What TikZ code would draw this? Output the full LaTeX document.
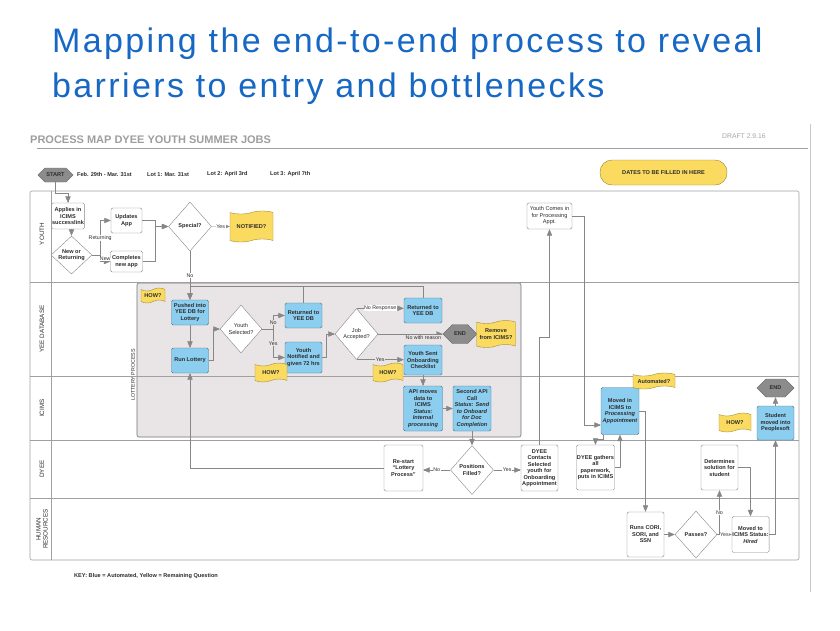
\documentclass[tikz,border=0pt]{standalone}
\usepackage{fontspec}
\setmainfont{Liberation Sans}
\newfontfamily\titlefont[LetterSpace=7]{Liberation Sans}
\usepackage{tikz}
\usetikzlibrary{shapes.geometric,shapes.symbols}
\usetikzlibrary{positioning}
\usepgflibrary{arrows}
\definecolor{titleblue}{RGB}{22,104,196}
\definecolor{lanegray}{RGB}{160,160,160}
\definecolor{linegray}{RGB}{135,135,135}
\definecolor{inkgray}{RGB}{45,45,45}
\definecolor{autoblue}{RGB}{140,206,240}
\definecolor{flagyellow}{RGB}{250,218,95}
\definecolor{endgray}{RGB}{140,140,140}
\definecolor{lotfill}{RGB}{233,229,231}
\newcommand{\bxfont}{\fontsize{5.6}{6.5}\selectfont\bfseries}
\newcommand{\bxfontreg}{\fontsize{5.6}{6.5}\selectfont}
\newcommand{\lblfont}{\fontsize{5.3}{6}\selectfont}

\begin{document}
\begin{tikzpicture}[x=1pt,y=-1pt]
	\tikzset{>=triangle 45}
	\tikzset{
		box/.style={draw=linegray, rounded corners=1.5pt, fill=white, text=inkgray, align=center, inner sep=0.5pt, font=\bxfont, minimum width=37pt, minimum height=25pt},
		autobox/.style={box, fill=autoblue, draw=autoblue!55!black},
		decision/.style={diamond, draw=linegray, fill=white, text=inkgray, align=center, inner sep=0pt, font=\bxfont, minimum width=43pt, minimum height=49pt},
		flag/.style={tape, tape bend height=3pt, draw=flagyellow!65!black, fill=flagyellow, text=inkgray, align=center, inner sep=0.5pt, font=\bxfont},
		term/.style={signal, signal to=east and west, draw=endgray!80!black, fill=endgray, text=inkgray, font=\bxfont, inner sep=0.5pt, minimum height=19pt},
		flowline/.style={draw=linegray, line width=0.45pt},
		flow/.style={flowline, ->},
		lbl/.style={font=\lblfont, text=inkgray, fill=white, inner sep=0.5pt},
		lotlbl/.style={lbl, fill=lotfill},
		lane/.style={draw=lanegray, line width=0.6pt},
		laneLbl/.style={font=\fontsize{6.3}{7}\selectfont, text=inkgray, rotate=90, align=center},
		titleText/.style={anchor=base west, inner sep=0pt, font=\titlefont\fontsize{34}{40}\selectfont, text=titleblue},
	}
	\path[use as bounding box, fill=white] (0,0) rectangle (840,630);

	% Title of the slide
	\node[titleText] (title1) at (52,52) {Mapping the end-to-end process to reveal};
	\node[titleText] (title2) at (52,97) {barriers to entry and bottlenecks};

	% Header of the process map
	\node[anchor=base west, inner sep=0pt, font=\fontsize{11}{12}\selectfont\bfseries, text=black!38] (mapTitle) at (30,143) {PROCESS MAP DYEE YOUTH SUMMER JOBS};
	\node[anchor=base west, inner sep=0pt, font=\fontsize{6.8}{8}\selectfont, text=black!35] (draft) at (722,138.5) {DRAFT 2.9.16};
	\draw[lane] (37,148) -- (808,148);
	\draw[black!22] (810,124) -- (810,592);

	% Start and the dates of the lots
	\node[term, minimum width=35pt, minimum height=14pt] (start) at (55.5,175) {START};
	\foreach \txt/\x [count=\i] in {Feb. 29th - Mar. 31st/77, Lot 1: Mar. 31st/147, Lot 2: April 3rd/207, Lot 3: April 7th/270}
		\node[anchor=west, inner sep=0pt, font=\bxfont, text=inkgray] (date\i) at (\x,174.5) {\txt};
	\node[draw=flagyellow!60!black, fill=flagyellow, rounded corners=12pt, minimum width=127pt, minimum height=25pt, font=\bxfont, text=inkgray] (datesTbd) at (663.5,172.5) {DATES TO BE FILLED IN HERE};

	% Frame of the lottery process
	\draw[fill=lotfill, draw=black!55, line width=0.6pt, rounded corners=2pt] (137,283) rectangle (521,437);
	\node[rotate=90, font=\lblfont, text=inkgray] (lotLabel) at (133,375) {LOTTERY PROCESS};

	% Swim lanes
	\draw[lane, rounded corners=2pt] (30,191) rectangle (799,560);
	\draw[lane] (51,191) -- (51,560);
	\foreach \y in {282,376,440,498}
		\draw[lane] (30,\y) -- (799,\y);
	\foreach \laneName/\y [count=\i] in {YOUTH/234, YEE DATABASE/329, ICIMS/408, DYEE/469, {HUMAN\\RESOURCES}/529}
		\node[laneLbl] (lane\i) at (42,\y) {\laneName};

	% Youth lane
	\node[box, minimum width=32pt, minimum height=26pt] (apply) at (68,216) {Applies in\\ICIMS\\successlink};
	\node[decision, minimum width=41pt, minimum height=34pt] (newRet) at (71.5,255) {New or\\Returning};
	\node[box, minimum width=31pt, minimum height=25pt] (update) at (126.5,220.5) {Updates\\App};
	\node[box, minimum width=32pt, minimum height=21pt] (complete) at (126.5,261.5) {Completes\\new app};
	\node[decision] (special) at (190,226.5) {Special?};
	\node[flag, minimum width=43pt, minimum height=31pt] (notified) at (251.5,226.5) {NOTIFIED?};
	\node[box, font=\fontsize{5.6}{6.5}\selectfont, minimum width=45pt, minimum height=26pt] (comesIn) at (549.5,216) {Youth Comes in\\for Processing\\Appt.};

	% YEE database lane
	\node[flag, minimum width=24pt, minimum height=15pt] (how1) at (153,295.5) {HOW?};
	\node[autobox] (pushed) at (190,312.5) {Pushed into\\YEE DB for\\Lottery};
	\node[autobox] (runLottery) at (190,360.5) {Run Lottery};
	\node[decision, font=\bxfontreg, minimum width=42pt, minimum height=48pt] (selected) at (241,329) {Youth\\Selected?};
	\node[autobox] (returned1) at (303.5,315.5) {Returned to\\YEE DB};
	\node[autobox, minimum height=31pt] (notify72) at (303.5,357.5) {Youth\\Notified and\\given 72 hrs};
	\node[flag, minimum width=32pt, minimum height=19pt] (how2) at (271,372.5) {HOW?};
	\node[decision, font=\bxfontreg, minimum height=51pt] (accepted) at (356.5,334) {Job\\Accepted?};
	\node[autobox, minimum width=38pt] (returned2) at (423,310.5) {Returned to\\YEE DB};
	\node[term, minimum width=34pt] (end1) at (460,334) {END};
	\node[flag, minimum width=39pt, minimum height=27pt] (remove) at (496,334) {Remove\\from ICIMS?};
	\node[autobox, minimum width=38pt, minimum height=30pt] (sent) at (423,360) {Youth Sent\\Onboarding\\Checklist};
	\node[flag, minimum width=30pt, minimum height=19pt] (how3) at (388,372.5) {HOW?};

	% ICIMS lane
	\node[autobox, minimum width=39pt, minimum height=45pt] (apiMove) at (423,408.5) {API moves\\data to\\ICIMS\\\textit{Status:}\\\textit{Internal}\\\textit{processing}};
	\node[autobox, minimum width=38pt, minimum height=45pt] (apiSecond) at (472,408.5) {Second API\\Call\\\textit{Status: Send}\\\textit{to Onboard}\\\textit{for Doc}\\\textit{Completion}};
	\node[autobox, minimum width=38pt, minimum height=47pt] (movedIn) at (620,411) {Moved in\\ICIMS to\\\textit{Processing}\\\textit{Appointment}};
	\node[flag, minimum width=42pt, minimum height=16pt] (automated) at (654,381) {Automated?};
	\node[autobox, minimum height=34pt] (student) at (775.5,423) {Student\\moved into\\Peoplesoft};
	\node[term, minimum width=37pt, minimum height=18pt] (end2) at (775.5,388) {END};
	\node[flag, minimum width=32pt, minimum height=19pt] (how4) at (735,422.5) {HOW?};

	% DYEE lane
	\node[box, minimum width=39pt, minimum height=46pt] (restart) at (403.5,468) {Re-start\\“Lottery\\Process”};
	\node[decision] (filled) at (472,470) {Positions\\Filled?};
	\node[box, minimum height=46pt] (contact) at (539.5,468) {DYEE\\Contacts\\Selected\\youth for\\Onboarding\\Appointment};
	\node[box, minimum height=45pt] (gather) at (595.5,467.5) {DYEE gathers\\all\\paperwork,\\puts in ICIMS};
	\node[box, minimum height=45pt] (determine) at (719.5,467.5) {Determines\\solution for\\student};

	% Human resources lane
	\node[box, minimum height=45pt] (cori) at (645.5,534.5) {Runs CORI,\\SORI, and\\SSN};
	\node[decision, minimum width=42pt, minimum height=47pt] (passes) at (696,534.5) {Passes?};
	\node[box, minimum height=36pt] (hired) at (750.5,534.5) {Moved to\\ICIMS Status:\\\textit{Hired}};

	\node[anchor=west, inner sep=0pt, font=\fontsize{5.6}{6.5}\selectfont\bfseries, text=inkgray] (key) at (74,576) {KEY: Blue = Automated, Yellow = Remaining Question};

	% Connectors of the youth lane
	\draw[flow] (start.south) |- ([yshift=10pt]apply.north) -- (apply.north);
	\draw[flow] (newRet.north |- apply.south) -- (newRet.north);
	\draw[flow] (newRet.east) -- ++(8,0) |- (update.west) node[lbl, pos=0.25] {Returning};
	\draw[flow] (newRet.east) -- ++(8,0) |- (complete.west) node[lbl, pos=0.75, above=0pt] {New};
	\draw[flow] (update.east) -- ++(13,0) |- (special.west);
	\draw[flow] (complete.east) -- ++(13,0) |- (special.west);
	\draw[flow] (special) -- (notified) node[lbl, midway] {Yes};
	\draw[flow] (special) -- (pushed) node[lbl, midway] {No};
	\draw[flow] (contact.north) -- ++(0,-108) -| (comesIn.south);
	\draw[flow] (comesIn.east) -- ++(12,0) |- ([yshift=-14pt]movedIn.west);

	% Connectors of the lottery
	\draw[flow] (returned1.north) |- ([yshift=14pt]pushed.north) -- (pushed.north);
	\draw[flowline] (returned2.north) |- ([yshift=14pt]pushed.north);
	\draw[flow] (pushed) -- (runLottery);
	\draw[flow] (runLottery.east) -- ++(5,0) |- (selected.west);
	\draw[flow] (selected.east) -- ++(11,0) |- (returned1.west) node[lotlbl, pos=0.25] {No};
	\draw[flow] (selected.east) -- ++(11,0) |- (notify72.west) node[lotlbl, pos=0.25] {Yes};
	\draw[flow] (notify72.east) -- ++(4,0) |- (accepted.west);
	\draw[flow] (accepted.north) -- (accepted.north -| returned2.west) node[lbl, midway] {No Response};
	\draw[flow] (accepted.east) -- (accepted.east -| end1.west) node[lotlbl, pos=0.7, below=0.5pt] {No with reason};
	\draw[flow] (accepted.south) -- (accepted.south -| sent.west) node[lotlbl, midway] {Yes};
	\draw[flow] (sent) -- (apiMove);
	\draw[flow] (apiMove) -- (apiSecond);
	\draw[flow] (apiSecond) -- (filled);
	\draw[flow] (filled.west) -- (filled.west -| restart.east) node[lbl, midway] {No};
	\draw[flow] (filled.east) -- (filled.east -| contact.west) node[lbl, midway] {Yes};
	\draw[flow] (restart.west) -| (runLottery.south);

	% Connectors of the onboarding
	\draw[flow] ([xshift=2pt]movedIn.south west) -- ++(0,5) -| (gather.north);
	\draw[flow] (gather.east) -| (movedIn.south);
	\draw[flow] (movedIn.east) -| (cori.north);
	\draw[flow] (cori) -- (passes);
	\draw[flow] (passes) -- (hired) node[lbl, midway] {Yes};
	\draw[flow] (passes.east) -| (determine.south) node[lbl, pos=0.75] {No};
	\draw[flow] (determine.east) -| (hired.north);
	\draw[flow] (hired.east) -| (student.south);
	\draw[flow] (student) -- (end2);
\end{tikzpicture}
\end{document}
